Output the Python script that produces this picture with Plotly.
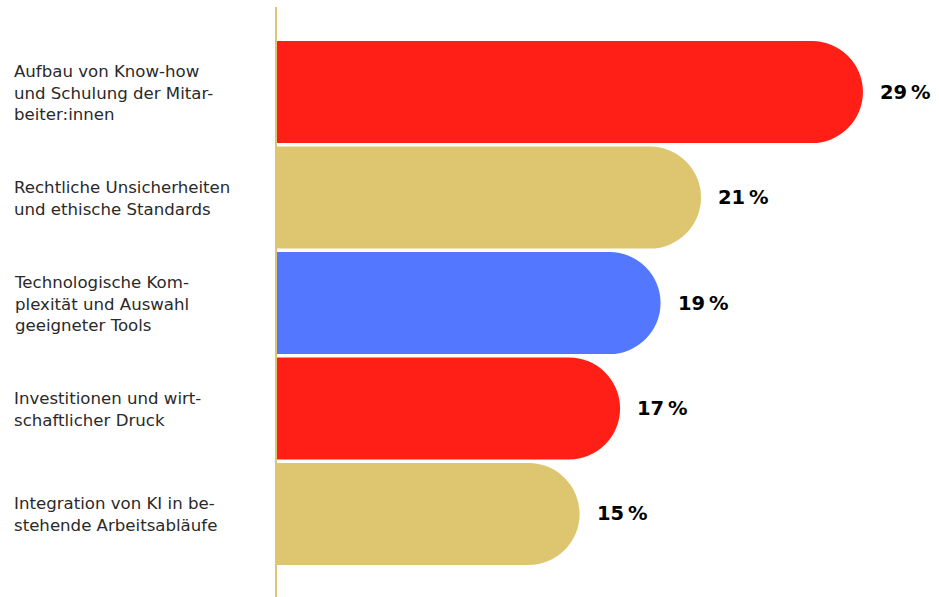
import plotly.graph_objects as go

# Survey results: biggest challenges when introducing AI
categories = [
    "Aufbau von Know-how<br>und Schulung der Mitar-<br>beiter:innen",
    "Rechtliche Unsicherheiten<br>und ethische Standards",
    "Technologische Kom-<br>plexität und Auswahl<br>geeigneter Tools",
    "Investitionen und wirt-<br>schaftlicher Druck",
    "Integration von KI in be-<br>stehende Arbeitsabläufe",
]
values = [29, 21, 19, 17, 15]
value_labels = ["29\u2009%", "21\u2009%", "19\u2009%", "17\u2009%", "15\u2009%"]
colors = ["#FF1F17", "#DEC671", "#5377FF", "#FF1F17", "#DEC671"]

W, H = 939, 597
left, top = 276, 7
plot_w = W - left
px_per_unit = 20.24

fig = go.Figure()
fig.add_trace(go.Bar(
    y=list(range(len(values))),
    x=values,
    orientation="h",
    marker=dict(color=colors, line=dict(width=0), cornerradius="50%"),
    hoverinfo="skip",
))

# category labels, left aligned in the margin
for i, label in enumerate(categories):
    fig.add_annotation(
        x=(12 - left) / plot_w, xref="paper", xanchor="left",
        y=i, yref="y", yanchor="middle", yshift=-1,
        text=label, align="left", showarrow=False,
        font=dict(family="DejaVu Sans", size=16.6, color="#2a2a2a"),
    )

# value labels next to the bar ends
for i, (v, t) in enumerate(zip(values, value_labels)):
    fig.add_annotation(
        x=v, xref="x", xanchor="left", xshift=15,
        y=i, yref="y", yanchor="middle",
        text=f"<b>{t}</b>", showarrow=False,
        font=dict(family="DejaVu Sans", size=19.5, color="#000000"),
    )

# baseline along the left edge of the plot area
fig.add_shape(
    type="line", xref="paper", yref="paper",
    x0=0, x1=0, y0=0, y1=1,
    line=dict(color="#DEC671", width=2), layer="above",
)

fig.update_layout(
    width=W, height=H,
    margin=dict(l=left, r=0, t=top, b=0),
    paper_bgcolor="white", plot_bgcolor="white",
    bargap=0.033,
    showlegend=False,
    xaxis=dict(range=[0, plot_w / px_per_unit], visible=False, fixedrange=True),
    yaxis=dict(range=[4.787, -0.806], visible=False, fixedrange=True),
)

fig.write_html("out.html")
